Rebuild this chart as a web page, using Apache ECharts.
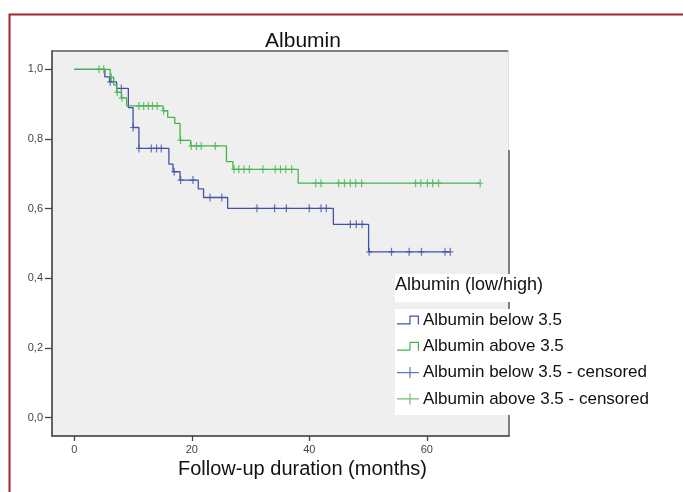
<!DOCTYPE html>
<html>
<head>
<meta charset="utf-8">
<script src="https://cdn.jsdelivr.net/npm/echarts@6/dist/echarts.min.js"></script>
<style>
html,body{margin:0;padding:0;background:#fff;}
#chart{width:683px;height:492px;}
</style>
</head>
<body>
<div id="chart"></div>
<script>
// ---- data ----
const xTicks = [0, 20, 40, 60];
const yTicks = [0, 0.2, 0.4, 0.6, 0.8, 1.0];

const lowTimes = [0, 5.2, 6.0, 7.2, 9.2, 10.0, 11.0, 16.1, 16.8, 18.0, 21.1, 22.0, 26.1, 44.1, 50.1, 64.0];
const lowSurv  = [1.0, 0.978, 0.964, 0.945, 0.890, 0.833, 0.773, 0.728, 0.706, 0.682, 0.657, 0.632, 0.601, 0.555, 0.476, 0.476];
const lowCensor = [6.1, 8.0, 10.0, 11.0, 13.1, 14.0, 14.8, 17.0, 18.1, 20.2, 23.1, 25.1, 31.1, 34.1, 36.1, 40.0, 42.0, 42.9, 47.0, 48.0, 49.0, 50.2, 54.0, 57.0, 59.1, 63.1, 64.0];

const highTimes = [0, 6.1, 6.7, 7.2, 8.0, 8.9, 15.1, 15.9, 17.1, 18.0, 19.8, 25.9, 27.0, 38.1, 69.1];
const highSurv  = [1.0, 0.977, 0.955, 0.934, 0.918, 0.895, 0.881, 0.862, 0.845, 0.796, 0.780, 0.735, 0.713, 0.673, 0.673];
const highCensor = [4.2, 5.0, 6.3, 7.3, 8.1, 11.0, 11.8, 12.6, 13.3, 14.1, 15.2, 18.1, 19.9, 20.8, 21.6, 24.0, 27.2, 28.0, 28.9, 29.8, 32.1, 34.2, 35.1, 36.0, 37.0, 41.1, 42.0, 45.0, 46.0, 47.0, 47.9, 48.9, 58.1, 59.0, 60.1, 61.0, 62.0, 69.1];

const seriesNames = ['Albumin below 3.5', 'Albumin above 3.5', 'Albumin below 3.5 - censored', 'Albumin above 3.5 - censored'];

// ---- helpers ----
function zip(a, b) { return a.map((v, i) => [v, b[i]]); }
function survAt(times, surv, t) {
  let s = surv[0];
  for (let i = 0; i < times.length; i++) { if (times[i] <= t) s = surv[i]; }
  return s;
}
const BLUE = '#4152a8';
const GREEN = '#44b54e';
const FONT = '"Liberation Sans", Arial, sans-serif';

const plusSym = 'path://M-3,-0.55H-0.6V-4H0.6V-0.55H3V0.55H0.6V4H-0.6V0.55H-3Z';
const stepIcon = 'path://M0,7.8H12.4V0H22V9H20.8V1.2H13.6V9H0Z';
const plusIcon = 'path://M0,4.9H12.4V0H13.6V4.9H22V6.1H13.6V11H12.4V6.1H0Z';

const chart = echarts.init(document.getElementById('chart'), null, {renderer: 'canvas'});
chart.setOption({
  animation: false,
  backgroundColor: '#ffffff',
  title: {
    text: 'Albumin',
    left: 298, top: 26, textAlign: 'center',
    textStyle: {fontFamily: FONT, fontSize: 21, fontWeight: 'normal', color: '#111'}
  },
  grid: {
    left: 52, right: 174, top: 51, bottom: 56,
    show: true, backgroundColor: '#efefef', borderColor: '#5a5a5a', borderWidth: 1.5
  },
  xAxis: {
    type: 'value', min: -3.8, max: 74,
    name: 'Follow-up duration (months)', nameLocation: 'middle', nameGap: 22,
    nameTextStyle: {fontFamily: FONT, fontSize: 20, color: '#111', padding: [0, 0, 0, 44]},
    axisLine: {show: true, onZero: false, lineStyle: {color: '#5a5a5a', width: 1.5}},
    axisTick: {show: true, length: 5, customValues: xTicks, lineStyle: {color: '#444', width: 1.3}},
    axisLabel: {customValues: xTicks, margin: 8, fontFamily: FONT, fontSize: 11, color: '#444'},
    splitLine: {show: false}
  },
  yAxis: {
    type: 'value', min: -0.0525, max: 1.0525,
    axisLine: {show: true, onZero: false, lineStyle: {color: '#5a5a5a', width: 1.5}},
    axisTick: {show: true, length: 7, customValues: yTicks, lineStyle: {color: '#444', width: 1.3}},
    axisLabel: {customValues: yTicks, margin: 9, fontFamily: FONT, fontSize: 11, color: '#444',
      formatter: v => v.toFixed(1).replace('.', ',')},
    splitLine: {show: false}
  },
  legend: {
    orient: 'vertical', left: 395, top: 309,
    padding: [1, 3, 6, 2],
    backgroundColor: '#ffffff',
    itemWidth: 22, itemHeight: 11, itemGap: 6.3,
    selectedMode: false,
    itemStyle: {borderWidth: 0},
    textStyle: {fontFamily: FONT, fontSize: 17, color: '#111', lineHeight: 20, padding: [0, 0, 0, -1]},
    data: [
      {name: seriesNames[0], icon: stepIcon},
      {name: seriesNames[1], icon: stepIcon},
      {name: seriesNames[2], icon: plusIcon},
      {name: seriesNames[3], icon: plusIcon}
    ]
  },
  graphic: [
    {type: 'rect', left: 7, top: 12, shape: {width: 700, height: 500},
      style: {fill: 'none', stroke: '#a3242a', lineWidth: 2}, silent: true, z: 100},
    {type: 'line', shape: {x1: 509.5, y1: 49, x2: 509.5, y2: 150},
      style: {stroke: '#ffffff', lineWidth: 2.5}, silent: true, z: 100},
    {type: 'rect', shape: {x: 395, y: 274, width: 152, height: 28},
      style: {fill: '#ffffff'}, silent: true, z: 100},
    {type: 'text', x: 395, y: 285, silent: true, z: 101,
      style: {text: 'Albumin (low/high)', font: '18px "Liberation Sans", Arial, sans-serif',
        fill: '#111', textVerticalAlign: 'middle'}}
  ],
  series: [
    {name: seriesNames[0], type: 'line', step: 'end', showSymbol: false, symbol: 'none',
      data: zip(lowTimes, lowSurv), lineStyle: {color: BLUE, width: 1.3}, itemStyle: {color: BLUE}, z: 2},
    {name: seriesNames[1], type: 'line', step: 'end', showSymbol: false, symbol: 'none',
      data: zip(highTimes, highSurv), lineStyle: {color: GREEN, width: 1.3}, itemStyle: {color: GREEN}, z: 3},
    {name: seriesNames[2], type: 'scatter', symbol: plusSym, symbolSize: [6, 8],
      data: lowCensor.map(t => [t, survAt(lowTimes, lowSurv, t)]), itemStyle: {color: BLUE}, z: 4},
    {name: seriesNames[3], type: 'scatter', symbol: plusSym, symbolSize: [6, 8],
      data: highCensor.map(t => [t, survAt(highTimes, highSurv, t)]), itemStyle: {color: GREEN}, z: 5}
  ]
});
</script>
</body>
</html>
